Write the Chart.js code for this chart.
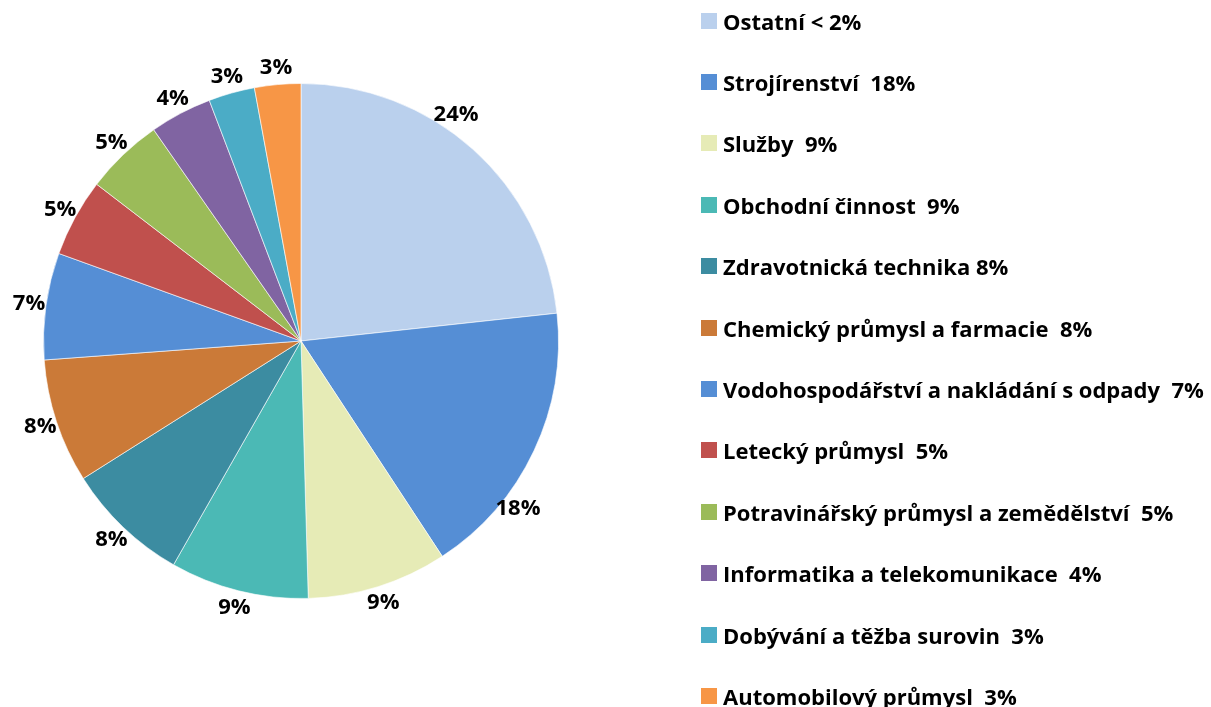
<!DOCTYPE html>
<html lang="cs">
<head>
    <meta charset="UTF-8">
    <title>Obory</title>
    <script src="https://cdn.jsdelivr.net/npm/chart.js"></script>
    <style>
        html, body {
            margin: 0;
            padding: 0;
            background: #fff;
            overflow: hidden;
        }
        #wrap {
            position: relative;
            width: 1211px;
            height: 707px;
            overflow: hidden;
        }
        #legend {
            position: absolute;
            left: 701px;
            top: -10px;
            font-family: 'Open Sans', sans-serif;
            font-weight: bold;
            font-size: 22px;
            color: #000;
        }
        .row {
            height: 61.4px;
            display: flex;
            align-items: center;
            white-space: pre;
        }
        .box {
            width: 16px;
            height: 16px;
            margin-right: 6px;
            flex: none;
        }
    </style>
</head>
<body>
<div id="wrap">
    <canvas id="pie" width="1211" height="707"></canvas>
    <div id="legend"></div>
</div>
<script>
    // legend texts (as in the source, incl. the spacing)
    const categories = [
        'Ostatní < 2%',
        'Strojírenství  18%',
        'Služby  9%',
        'Obchodní činnost  9%',
        'Zdravotnická technika 8%',
        'Chemický průmysl a farmacie  8%',
        'Vodohospodářství a nakládání s odpady  7%',
        'Letecký průmysl  5%',
        'Potravinářský průmysl a zemědělství  5%',
        'Informatika a telekomunikace  4%',
        'Dobývání a těžba surovin  3%',
        'Automobilový průmysl  3%'
    ];
    // slice sizes in %
    const shares = [23.3, 17.5, 8.8, 8.7, 7.8, 7.8, 6.7, 4.9, 4.9, 3.9, 2.9, 2.9];
    // data labels shown on the chart
    const shareLabels = ['24%', '18%', '9%', '9%', '8%', '8%', '7%', '5%', '5%', '4%', '3%', '3%'];
    const colors = [
        '#BAD0ED', '#558ED5', '#E6EBB6', '#4BB9B5', '#3C8CA1', '#CB7A38',
        '#558ED5', '#C0504D', '#9BBB59', '#8064A2', '#4BACC6', '#F79646'
    ];

    // outside-end labels; two of them were moved a bit in the original
    const labelNudge = {0: -7.5, 1: 12.5};

    const outsideLabels = {
        id: 'outsideLabels',
        afterDatasetsDraw(chart) {
            const ctx = chart.ctx;
            const meta = chart.getDatasetMeta(0);
            ctx.save();
            ctx.font = 'bold 22px "Open Sans", sans-serif';
            ctx.fillStyle = '#000';
            ctx.textAlign = 'center';
            ctx.textBaseline = 'middle';
            meta.data.forEach((arc, i) => {
                const p = arc.getProps(['x', 'y', 'startAngle', 'endAngle', 'outerRadius'], true);
                let mid = (p.startAngle + p.endAngle) / 2;
                mid += (labelNudge[i] || 0) * Math.PI / 180;
                const r = p.outerRadius + 17;
                ctx.fillText(shareLabels[i], p.x + Math.cos(mid) * r, p.y + Math.sin(mid) * r);
            });
            ctx.restore();
        }
    };

    const chart = new Chart(document.getElementById('pie'), {
        type: 'pie',
        data: {
            labels: categories,
            datasets: [{
                data: shares,
                backgroundColor: colors,
                borderColor: 'rgba(255,255,255,0.6)',
                borderWidth: 1,
                hoverOffset: 0
            }]
        },
        options: {
            responsive: false,
            animation: false,
            layout: {
                padding: {left: 43, right: 652, top: 83, bottom: 108}
            },
            plugins: {
                legend: {display: false},
                tooltip: {enabled: false}
            }
        },
        plugins: [outsideLabels]
    });

    // legend beside the pie
    const legend = document.getElementById('legend');
    categories.forEach((name, i) => {
        const row = document.createElement('div');
        row.className = 'row';
        const box = document.createElement('span');
        box.className = 'box';
        box.style.background = colors[i];
        const txt = document.createElement('span');
        txt.textContent = name;
        row.appendChild(box);
        row.appendChild(txt);
        legend.appendChild(row);
    });
</script>
</body>
</html>
